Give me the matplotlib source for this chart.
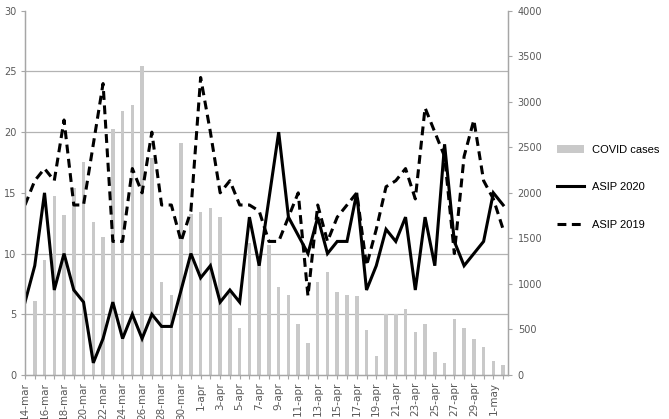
import numpy as np
import matplotlib
matplotlib.use("Agg")
import matplotlib.pyplot as plt
from matplotlib.ticker import FixedLocator

# days 14-mar .. 2-may
days = ([f"{d}-mar" for d in range(14, 32)] +
        [f"{d}-apr" for d in range(1, 31)] +
        [f"{d}-may" for d in range(1, 3)])

# daily COVID cases (right axis); first bar not visible in the original
covid_cases = [np.nan, 810, 1260, 1960, 1760, 2050, 2340, 1680, 1510, 2700,
               2900, 2970, 3390, 2380, 1025, 880, 2545, 1770,
               1790, 1835, 1740, 900, 520, 1450, 1300, 1430, 965, 880,
               560, 350, 1025, 1135, 915, 880, 865, 495, 210, 665,
               665, 730, 470, 555, 255, 130, 610, 520, 390, 305,
               155, 115]

# ASIP (left axis)
asip_2020 = [6, 9, 15, 7, 10, 7, 6, 1, 3, 6, 3, 5, 3, 5, 4, 4, 7, 10,
             8, 9, 6, 7, 6, 13, 9, 14.5, 20, 13, 11.5, 10, 13, 10, 11, 11,
             15, 7, 9, 12, 11, 13, 7, 13, 9, 19, 11, 9, 10, 11,
             15, 14]
asip_2019 = [14, 16, 17, 16, 21, 14, 14, 19, 24, 11, 11, 17, 15, 20, 14, 14, 11, 13.5,
             24.5, 20, 15, 16, 14, 14, 13.5, 11, 11, 13, 15, 6.5, 14, 11, 13, 14,
             15, 9, 12, 15.5, 16, 17, 14.5, 22, 20, 18, 10, 18, 21, 16,
             14.5, 12]

x = np.arange(len(days))
tick_col = "#595959"
axis_col = "#a6a6a6"

fig = plt.figure(figsize=(6.69, 4.19), dpi=100)
ax = fig.add_axes([25 / 669, 44 / 419, 483 / 669, 364.3 / 419])
axb = ax.twinx()

# bars on the right axis, drawn underneath
axb.bar(x, covid_cases, width=0.36, color="#c9c9c9", label="COVID cases", zorder=2)
axb.set_ylim(0, 4000)
axb.set_yticks(np.arange(0, 4001, 500))
axb.yaxis.set_minor_locator(FixedLocator(np.linspace(0, 4000, 7)[1:]))
axb.grid(which="minor", axis="y", color="#b3b3b3", lw=0.9)
axb.set_axisbelow(True)
axb.tick_params(which="minor", length=0)
axb.tick_params(axis="y", which="major", direction="out", length=3,
                colors=axis_col, labelcolor=tick_col, labelsize=7, pad=4)

# lines on the left axis, drawn on top
ax.set_zorder(axb.get_zorder() + 1)
ax.patch.set_visible(False)
ax.plot(x, asip_2020, color="black", lw=2.2, label="ASIP 2020", solid_joinstyle="miter")
ax.plot(x, asip_2019, color="black", lw=2.2, linestyle=(0, (2.9, 1.8)), label="ASIP 2019")
ax.set_ylim(0, 30)
ax.set_yticks(np.arange(0, 31, 5))
ax.set_xlim(0, 49.5)
ax.set_xticks(x)
ax.set_xticklabels([d if i % 2 == 0 else "" for i, d in enumerate(days)], rotation=90)
ax.tick_params(axis="y", direction="out", length=3, colors=axis_col,
               labelcolor=tick_col, labelsize=7, pad=3)
ax.tick_params(axis="x", direction="out", length=3, colors=axis_col,
               labelcolor=tick_col, labelsize=7.5, pad=2)

for a in (ax, axb):
    a.spines["top"].set_visible(False)
    for s in ("left", "right", "bottom"):
        a.spines[s].set_color(axis_col)
        a.spines[s].set_linewidth(0.9)

handles = axb.get_legend_handles_labels()[0] + ax.get_legend_handles_labels()[0]
labels = ["COVID cases", "ASIP 2020", "ASIP 2019"]
fig.legend(handles, labels, loc="center left", bbox_to_anchor=(0.817, 0.553),
           frameon=False, prop={"family": "Liberation Sans", "size": 8},
           handlelength=2.5, labelspacing=2.5, handletextpad=0.7)

fig.savefig("out.png", dpi=100)
